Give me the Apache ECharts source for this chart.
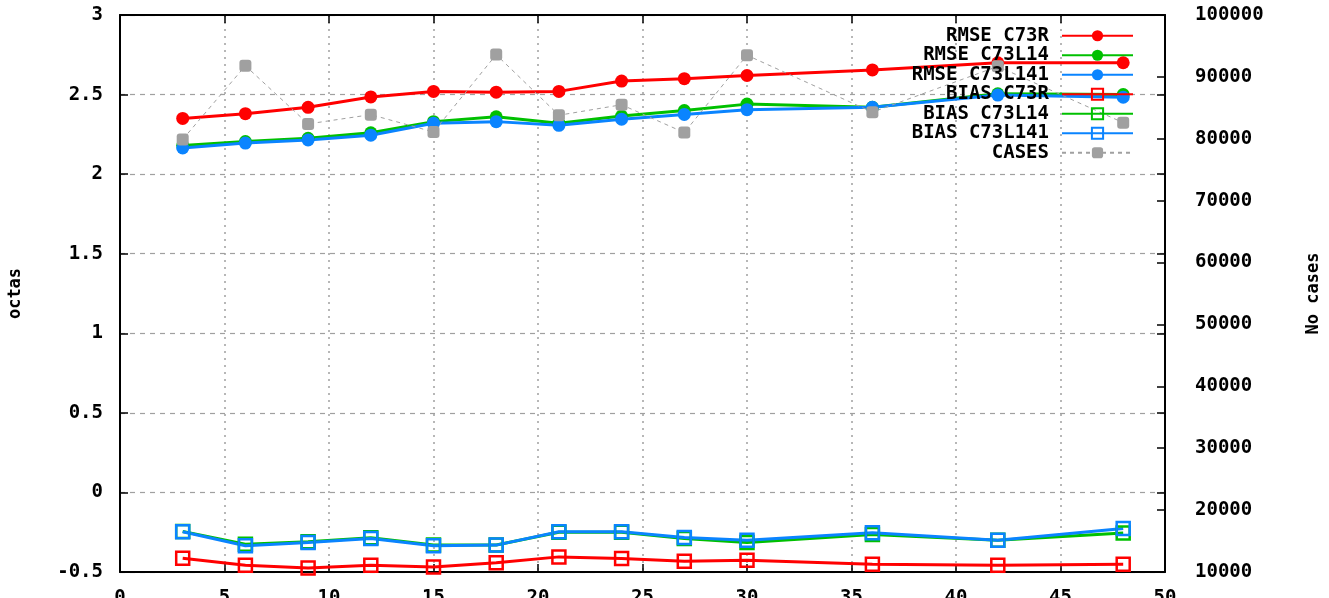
<!DOCTYPE html>
<html>
<head>
<meta charset="utf-8">
<script src="https://cdn.jsdelivr.net/npm/echarts@6/dist/echarts.min.js"></script>
<style>
html,body{margin:0;padding:0;background:#fff;}
#chart{width:1329px;height:598px;}
</style>
</head>
<body>
<div id="chart"></div>
<script>
const xValues = [3, 6, 9, 12, 15, 18, 21, 24, 27, 30, 36, 42, 48];
const xTicks = [0, 5, 10, 15, 20, 25, 30, 35, 40, 45, 50];
const octasTicks = [-0.5, 0, 0.5, 1, 1.5, 2, 2.5, 3];
const casesTicks = [10000, 20000, 30000, 40000, 50000, 60000, 70000, 80000, 90000, 100000];

const rmseC73R    = [2.35, 2.38, 2.42, 2.485, 2.52, 2.515, 2.52, 2.585, 2.60, 2.62, 2.655, 2.70, 2.70];
const rmseC73L14  = [2.18, 2.205, 2.225, 2.26, 2.33, 2.36, 2.32, 2.365, 2.40, 2.44, 2.42, 2.505, 2.50];
const rmseC73L141 = [2.165, 2.195, 2.215, 2.245, 2.32, 2.33, 2.307, 2.345, 2.375, 2.405, 2.42, 2.497, 2.483];
const biasC73R    = [-0.413, -0.457, -0.475, -0.457, -0.468, -0.442, -0.405, -0.415, -0.432, -0.426, -0.451, -0.457, -0.451];
const biasC73L14  = [-0.245, -0.325, -0.31, -0.285, -0.33, -0.33, -0.25, -0.25, -0.289, -0.315, -0.265, -0.30, -0.255];
const biasC73L141 = [-0.247, -0.335, -0.314, -0.289, -0.335, -0.331, -0.247, -0.247, -0.283, -0.30, -0.254, -0.30, -0.226];
const cases       = [79900, 91800, 82400, 83900, 81100, 93600, 83800, 85500, 81000, 93500, 84300, 91700, 82600];

const RED = '#ff0000', GREEN = '#00c000', BLUE = '#0a84ff', GRAY = '#a0a0a0';
const FONT = '"DejaVu Sans Mono", monospace';

function pairs(ys) { return xValues.map((x, i) => [x, ys[i]]); }

function rmse(name, ys, color) {
  return {
    name, type: 'line', data: pairs(ys), xAxisIndex: 0, yAxisIndex: 0,
    symbol: 'circle', symbolSize: 13,
    lineStyle: { color, width: 3 },
    itemStyle: { color },
    emphasis: { disabled: true }
  };
}
function bias(name, ys, color) {
  return {
    name, type: 'line', data: pairs(ys), xAxisIndex: 0, yAxisIndex: 0,
    symbol: 'rect', symbolSize: 13,
    lineStyle: { color, width: 3 },
    itemStyle: { color: 'rgba(255,255,255,0)', borderColor: color, borderWidth: 2.5 },
    emphasis: { disabled: true }
  };
}

const chart = echarts.init(document.getElementById('chart'), null, { renderer: 'canvas' });
const labelStyle = { color: '#000', fontFamily: FONT, fontWeight: 'bold', fontSize: 19 };
const tickStyle = { show: true, inside: true, length: 8, lineStyle: { color: '#000', width: 1.5 } };
const gridRect = { left: 120, right: 164, top: 15, bottom: 26, containLabel: false, outerBoundsMode: 'none' };

chart.setOption({
  animation: false,
  backgroundColor: '#fff',
  grid: [Object.assign({}, gridRect), Object.assign({}, gridRect)],
  legend: {
    orient: 'vertical', align: 'right', right: 190, top: 21,
    itemWidth: 71, itemHeight: 14, itemGap: 0,
    textStyle: { color: '#000', fontFamily: FONT, fontWeight: 'bold', fontSize: 19, lineHeight: 19.5, padding: [0, 8, 0, 0] },
    data: ['RMSE C73R', 'RMSE C73L14', 'RMSE C73L141', 'BIAS C73R', 'BIAS C73L14', 'BIAS C73L141', 'CASES']
  },
  xAxis: [
    {
      gridIndex: 0, type: 'value', position: 'bottom', min: xTicks[0], max: xTicks[xTicks.length - 1], interval: 5,
      axisLine: { show: true, onZero: false, lineStyle: { color: '#000', width: 2 } },
      axisTick: tickStyle,
      axisLabel: Object.assign({ margin: 17 }, labelStyle),
      splitLine: { show: true, lineStyle: { color: GRAY, width: 1.5, type: [2, 5] } }
    },
    {
      gridIndex: 1, type: 'value', position: 'top', min: xTicks[0], max: xTicks[xTicks.length - 1], interval: 5,
      axisLine: { show: true, onZero: false, lineStyle: { color: '#000', width: 2 } },
      axisTick: tickStyle,
      axisLabel: { show: false },
      splitLine: { show: false }
    }
  ],
  yAxis: [
    {
      gridIndex: 0, type: 'value', position: 'left', min: octasTicks[0], max: octasTicks[octasTicks.length - 1], interval: 0.5,
      name: 'octas', nameLocation: 'middle', nameRotate: 90, nameGap: 96,
      nameTextStyle: { color: '#000', fontFamily: FONT, fontWeight: 'bold', fontSize: 17 },
      axisLine: { show: true, onZero: false, lineStyle: { color: '#000', width: 2 } },
      axisTick: tickStyle,
      axisLabel: Object.assign({ margin: 17 }, labelStyle),
      splitLine: { show: true, lineStyle: { color: GRAY, width: 1.2, type: [5, 5] } }
    },
    {
      gridIndex: 0, type: 'value', position: 'right', min: casesTicks[0], max: casesTicks[casesTicks.length - 1], interval: 10000,
      name: 'No cases', nameLocation: 'middle', nameRotate: 90, nameGap: 140,
      nameTextStyle: { color: '#000', fontFamily: FONT, fontWeight: 'bold', fontSize: 17 },
      axisLine: { show: true, onZero: false, lineStyle: { color: '#000', width: 2 } },
      axisTick: tickStyle,
      axisLabel: Object.assign({ margin: 30, formatter: v => String(v) }, labelStyle),
      splitLine: { show: false }
    },
    {
      gridIndex: 1, type: 'value', position: 'right', min: octasTicks[0], max: octasTicks[octasTicks.length - 1], interval: 0.5,
      axisLine: { show: false, onZero: false },
      axisTick: tickStyle,
      axisLabel: { show: false },
      splitLine: { show: false }
    }
  ],
  series: [
    rmse('RMSE C73R', rmseC73R, RED),
    rmse('RMSE C73L14', rmseC73L14, GREEN),
    rmse('RMSE C73L141', rmseC73L141, BLUE),
    bias('BIAS C73R', biasC73R, RED),
    bias('BIAS C73L14', biasC73L14, GREEN),
    bias('BIAS C73L141', biasC73L141, BLUE),
    {
      name: 'CASES', type: 'line', data: pairs(cases), xAxisIndex: 0, yAxisIndex: 1,
      symbol: 'roundRect', symbolSize: 12,
      lineStyle: { color: GRAY, width: 1, type: [4, 4] },
      itemStyle: { color: GRAY },
      emphasis: { disabled: true }
    }
  ]
});
</script>
</body>
</html>
